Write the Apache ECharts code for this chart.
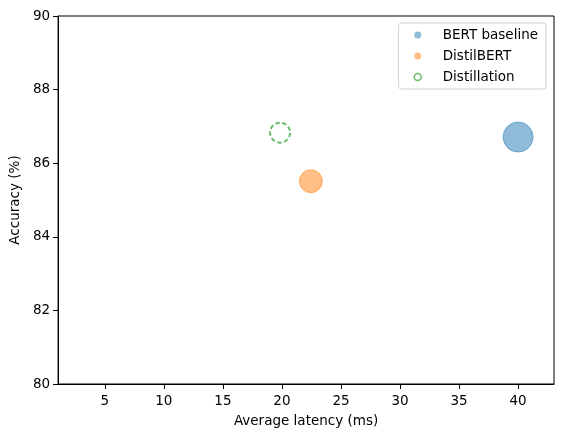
<!DOCTYPE html>
<html>
<head>
<meta charset="utf-8">
<script src="https://cdn.jsdelivr.net/npm/echarts@6/dist/echarts.min.js"></script>
<style>
  html, body { margin: 0; padding: 0; background: #fff; }
  #chart { width: 563px; height: 438px; }
</style>
</head>
<body>
<div id="chart"></div>
<script>
// model names and measured values
var models = ['BERT baseline', 'DistilBERT', 'Distillation'];
var latency = [40.0, 22.45, 19.84];   // ms
var accuracy = [86.71, 85.51, 86.83]; // %
var xTicks = [5, 10, 15, 20, 25, 30, 35, 40];
var yTicks = [80, 82, 84, 86, 88, 90];

var font = 'DejaVu Sans';
var blue = 'rgba(31,119,180,0.5)';
var orange = 'rgba(255,127,14,0.5)';
var green = 'rgba(44,160,44,0.7)';

var chart = echarts.init(document.getElementById('chart'));

var option = {
  animation: false,
  textStyle: { fontFamily: font },
  grid: {
    left: 57, right: 9, top: 16, bottom: 54,
    show: true, borderColor: '#000', borderWidth: 1
  },
  legend: {
    orient: 'vertical',
    right: 17, top: 23,
    padding: [4, 8, 4, 15],
    itemWidth: 40, itemHeight: 7, itemGap: 5,
    backgroundColor: '#fff',
    borderColor: '#d0d0d0', borderWidth: 1, borderRadius: 3,
    icon: 'circle',
    textStyle: { fontFamily: font, fontSize: 13.5, color: '#000', lineHeight: 16 },
    data: [
      { name: models[0], itemStyle: { color: blue, borderWidth: 0 } },
      { name: models[1], itemStyle: { color: orange, borderWidth: 0 } },
      { name: models[2], itemStyle: { color: '#fff', borderColor: green, borderWidth: 1.5, borderType: 'solid' } }
    ]
  },
  xAxis: {
    type: 'value',
    min: 1.04, max: 43.04,
    name: 'Average latency (ms)',
    nameLocation: 'middle', nameGap: 30,
    nameTextStyle: { fontFamily: font, fontSize: 13.5, color: '#000' },
    axisLine: { show: true, lineStyle: { color: '#000', width: 1 } },
    axisTick: { show: true, length: 5, lineStyle: { color: '#000' }, customValues: xTicks },
    axisLabel: { fontFamily: font, fontSize: 13.5, color: '#000', margin: 10, customValues: xTicks },
    splitLine: { show: false }
  },
  yAxis: {
    type: 'value',
    min: yTicks[0], max: yTicks[yTicks.length - 1], interval: 2,
    name: 'Accuracy (%)',
    nameLocation: 'middle', nameGap: 31,
    nameTextStyle: { fontFamily: font, fontSize: 13.5, color: '#000' },
    axisLine: { show: true, lineStyle: { color: '#000', width: 1 } },
    axisTick: { show: true, length: 5, lineStyle: { color: '#000' } },
    axisLabel: { fontFamily: font, fontSize: 13.5, color: '#000', margin: 8 },
    splitLine: { show: false }
  },
  series: [
    {
      name: models[0], type: 'scatter', symbol: 'circle', symbolSize: 30,
      itemStyle: { color: blue, borderColor: blue, borderWidth: 1, opacity: 1 },
      data: [[latency[0], accuracy[0]]]
    },
    {
      name: models[1], type: 'scatter', symbol: 'circle', symbolSize: 23,
      itemStyle: { color: orange, borderColor: orange, borderWidth: 1, opacity: 1 },
      data: [[latency[1], accuracy[1]]]
    },
    {
      name: models[2], type: 'scatter', symbol: 'circle', symbolSize: 20,
      itemStyle: { color: 'rgba(0,0,0,0)', borderColor: green, borderWidth: 2, borderType: [4.5, 2.5], opacity: 1 },
      data: [[latency[2], accuracy[2]]]
    }
  ]
};

chart.setOption(option);
</script>
</body>
</html>
